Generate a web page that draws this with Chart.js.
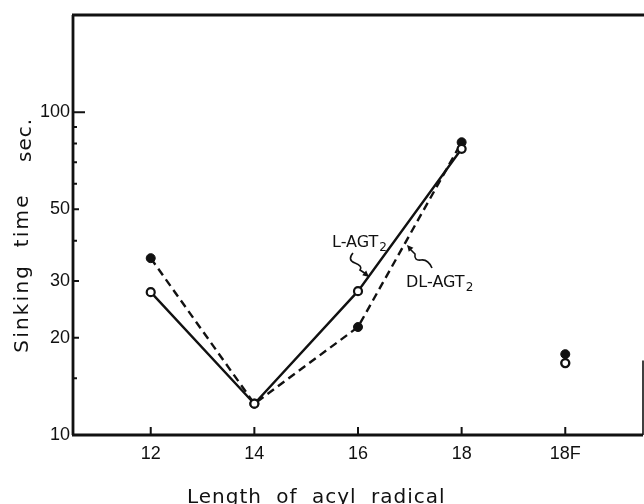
<!DOCTYPE html>
<html>
<head>
<meta charset="utf-8">
<script src="https://cdn.jsdelivr.net/npm/chart.js@4"></script>
<style>
  html,body{margin:0;padding:0;background:#fff;}
  #c{display:block;}
</style>
</head>
<body>
<canvas id="c" width="644" height="504"></canvas>
<script>
// ---- data ----
const categories = ['12', '14', '16', '18', '18F'];
const lAgt2Values = [27.7, 12.5, 27.9, 77.0, 16.7];   // open circles, solid line
const dlAgt2Values = [35.3, 12.5, 21.6, 80.7, 17.8];  // filled circles, dashed line
const connectedCount = 4; // 18F points are not joined to the lines
const yTickLabels = [10, 20, 30, 50, 100];
const yMinorTicks = [15, 40, 60, 70, 80, 90];
const xTitle = 'Length of acyl radical';
const yTitle = 'Sinking time';
const yUnit = 'sec.';

const toPts = (arr, from, to) => arr.slice(from, to).map((v, k) => ({x: from + k, y: v}));

const INK = '#111';

const framePlugin = {
  id: 'frame',
  afterDatasetsDraw(chart) {
    const {ctx, chartArea: a, scales: {x, y}} = chart;
    ctx.save();
    ctx.strokeStyle = INK;
    ctx.lineCap = 'butt';
    ctx.lineWidth = 2.8;
    ctx.beginPath();
    ctx.moveTo(a.left, a.top); ctx.lineTo(a.left, a.bottom);
    ctx.moveTo(a.left - 1, a.bottom); ctx.lineTo(a.right, a.bottom);
    ctx.moveTo(a.left - 1, a.top); ctx.lineTo(chart.width, a.top);
    ctx.stroke();
    ctx.lineWidth = 1.6;
    ctx.beginPath();
    ctx.moveTo(a.right, y.getPixelForValue(17)); ctx.lineTo(a.right, a.bottom);
    ctx.stroke();
    // x ticks (inward)
    ctx.lineWidth = 2;
    ctx.beginPath();
    categories.forEach((c, i) => {
      const px = x.getPixelForValue(i);
      ctx.moveTo(px, a.bottom); ctx.lineTo(px, a.bottom - 8);
    });
    // y ticks (inward)
    yTickLabels.forEach(v => {
      const py = y.getPixelForValue(v);
      const len = v === 100 ? 12 : 6;
      ctx.moveTo(a.left, py); ctx.lineTo(a.left + len, py);
    });
    yMinorTicks.forEach(v => {
      const py = y.getPixelForValue(v);
      ctx.moveTo(a.left, py); ctx.lineTo(a.left + 4, py);
    });
    ctx.stroke();

    // axis titles
    ctx.fillStyle = INK;
    ctx.font = '20px "DejaVu Sans"';
    ctx.letterSpacing = '1px';
    ctx.wordSpacing = '7px';
    ctx.textAlign = 'left';
    ctx.textBaseline = 'alphabetic';
    ctx.fillText(xTitle, 187, 503);

    ctx.save();
    ctx.translate(28, 273);
    ctx.rotate(-Math.PI / 2);
    ctx.textAlign = 'center';
    ctx.letterSpacing = '2.2px';
    ctx.wordSpacing = '8px';
    ctx.fillText(yTitle, 0, 0);
    ctx.restore();
    ctx.save();
    ctx.translate(31, 140);
    ctx.rotate(-Math.PI / 2);
    ctx.textAlign = 'center';
    ctx.letterSpacing = '1px';
    ctx.fillText(yUnit, 0, 0);
    ctx.restore();
    ctx.letterSpacing = '0px';
    ctx.wordSpacing = '0px';

    // series labels
    const label = (main, left, base) => {
      ctx.font = '16px "DejaVu Sans"';
      ctx.textAlign = 'left';
      ctx.fillText(main, left, base);
      const w = ctx.measureText(main).width;
      ctx.font = '12px "DejaVu Sans"';
      ctx.fillText('2', left + w + 1, base + 4);
    };
    label('L-AGT', 332, 247);
    label('DL-AGT', 406, 287);

    // squiggle arrows
    const arrowHead = (tx, ty, fx, fy) => {
      const ang = Math.atan2(ty - fy, tx - fx);
      ctx.beginPath();
      ctx.moveTo(tx, ty);
      ctx.lineTo(tx - 7 * Math.cos(ang - 0.45), ty - 7 * Math.sin(ang - 0.45));
      ctx.lineTo(tx - 7 * Math.cos(ang + 0.45), ty - 7 * Math.sin(ang + 0.45));
      ctx.closePath();
      ctx.fill();
    };
    ctx.lineWidth = 1.6;
    ctx.beginPath();
    ctx.moveTo(353, 253);
    ctx.quadraticCurveTo(347, 260, 355, 263);
    ctx.quadraticCurveTo(363, 266, 360, 270);
    ctx.lineTo(366, 274);
    ctx.stroke();
    arrowHead(369, 277, 362, 271);

    ctx.beginPath();
    ctx.moveTo(432, 268);
    ctx.quadraticCurveTo(428, 259, 421, 260);
    ctx.quadraticCurveTo(414, 261, 415, 254);
    ctx.lineTo(410, 249);
    ctx.stroke();
    arrowHead(407, 245, 413, 252);
    ctx.restore();
  }
};

new Chart(document.getElementById('c'), {
  type: 'line',
  data: {
    datasets: [
      {
        label: 'L-AGT2',
        data: toPts(lAgt2Values, 0, connectedCount),
        borderColor: INK, borderWidth: 2.4,
        pointRadius: 4, pointBorderWidth: 2.2,
        pointBackgroundColor: '#fff', pointBorderColor: INK,
        tension: 0
      },
      {
        label: 'DL-AGT2',
        data: toPts(dlAgt2Values, 0, connectedCount),
        borderColor: INK, borderWidth: 2.4, borderDash: [8, 5],
        pointRadius: 4.5, pointBorderWidth: 1,
        pointBackgroundColor: INK, pointBorderColor: INK,
        tension: 0
      },
      {
        label: 'DL-AGT2 18F',
        data: toPts(dlAgt2Values, connectedCount, categories.length),
        showLine: false,
        pointRadius: 4.5, pointBorderWidth: 1,
        pointBackgroundColor: INK, pointBorderColor: INK
      },
      {
        label: 'L-AGT2 18F',
        data: toPts(lAgt2Values, connectedCount, categories.length),
        showLine: false,
        pointRadius: 4, pointBorderWidth: 2.4,
        pointBackgroundColor: '#fff', pointBorderColor: INK
      }
    ]
  },
  options: {
    responsive: false,
    animation: false,
    devicePixelRatio: 1,
    layout: {autoPadding: false, padding: {top: 15, right: 1, left: 0, bottom: 0}},
    plugins: {legend: {display: false}, tooltip: {enabled: false}},
    scales: {
      x: {
        type: 'linear',
        min: -0.75, max: 4.75,
        grid: {display: false, drawTicks: false},
        border: {display: false},
        afterBuildTicks: s => { s.ticks = categories.map((c, i) => ({value: i})); },
        afterFit: s => { s.height = 69; s.paddingLeft = 0; s.paddingRight = 0; },
        ticks: {
          autoSkip: false, maxRotation: 0,
          padding: 8,
          color: INK,
          font: {family: '"Liberation Sans"', size: 18},
          callback: v => categories[v] ?? ''
        }
      },
      y: {
        type: 'logarithmic',
        min: 10, max: 200,
        grid: {display: false, drawTicks: false},
        border: {display: false},
        afterBuildTicks: s => { s.ticks = yTickLabels.map(v => ({value: v})); },
        afterFit: s => { s.width = 73; s.paddingTop = 0; s.paddingBottom = 0; },
        ticks: {
          autoSkip: false,
          padding: 3,
          color: INK,
          font: {family: '"Liberation Sans"', size: 18},
          callback: v => String(v)
        }
      }
    }
  },
  plugins: [framePlugin]
});
</script>
</body>
</html>
